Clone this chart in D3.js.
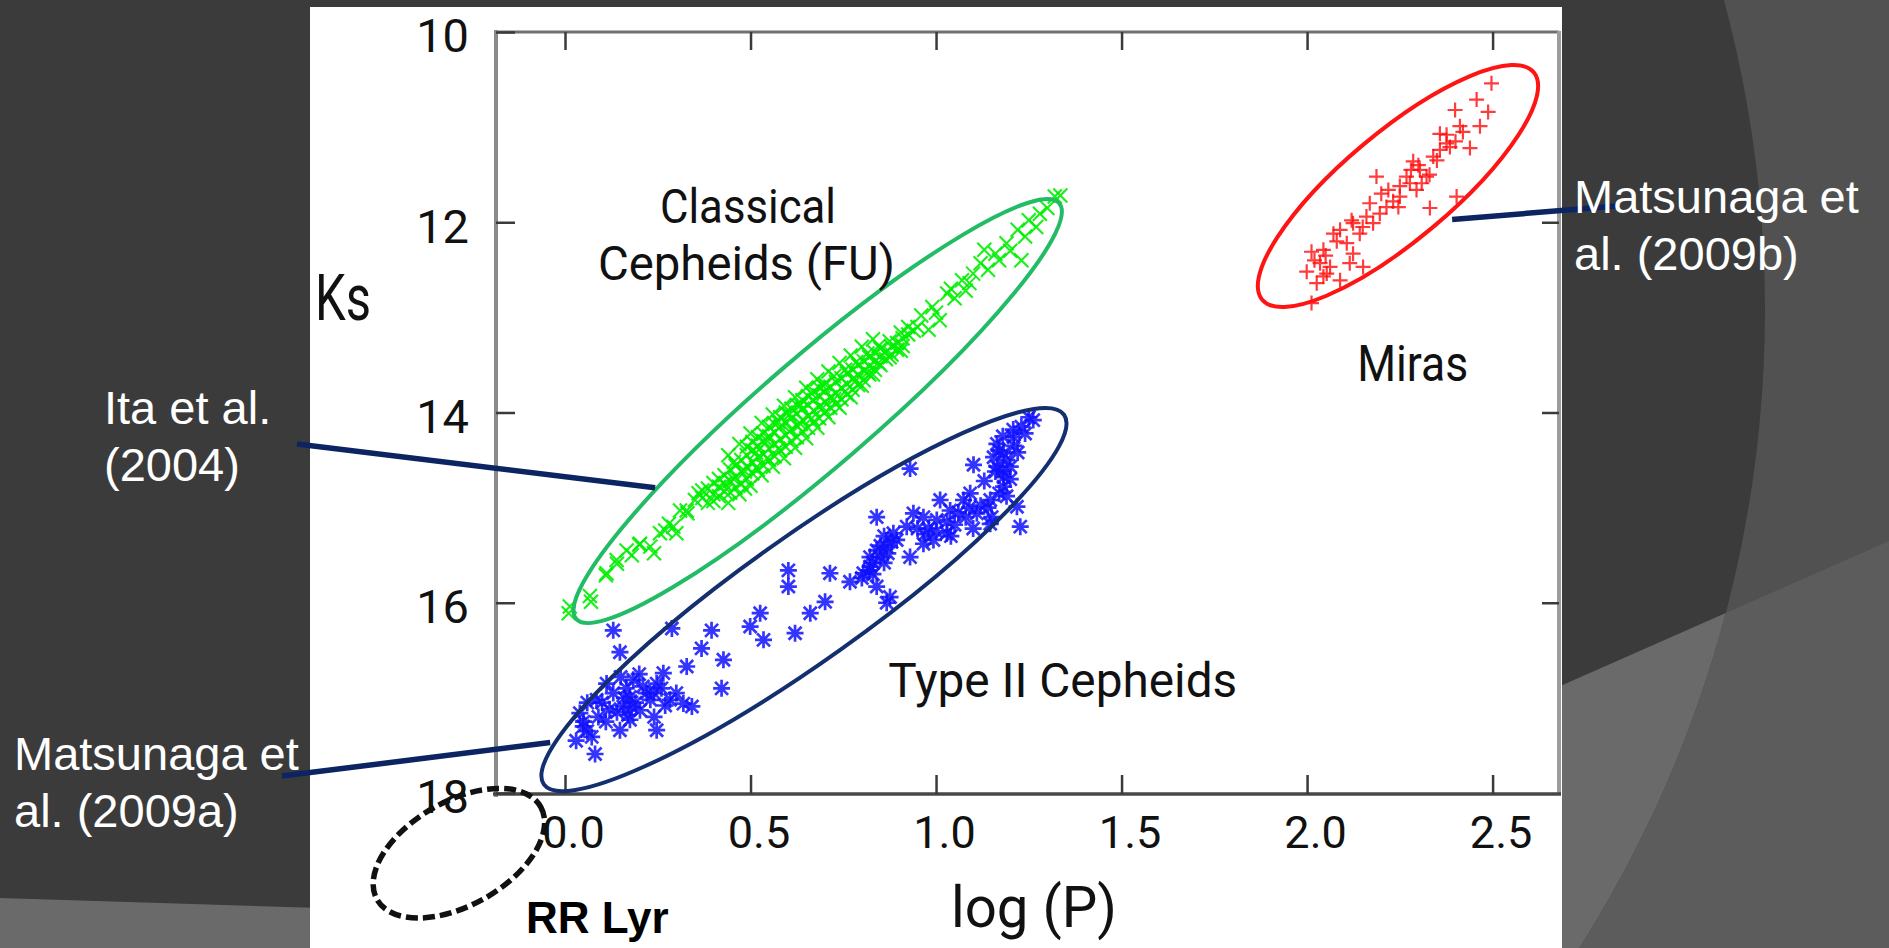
<!DOCTYPE html>
<html>
<head>
<meta charset="utf-8">
<script src="https://cdn.jsdelivr.net/npm/d3@7"></script>
<style>
body { margin: 0; background: #3b3b3b; overflow: hidden; }
</style>
</head>
<body>
<div id="chart"></div>
<script>
// ---- data (log P, Ks) ----
var classical = [
  [0.01,16.11],[0.07,15.99],[0.11,15.71],[0.14,15.59],[0.18,15.50],[0.20,15.39],[0.23,15.41],[0.24,15.48],
  [0.27,15.24],[0.28,15.17],[0.30,15.27],[0.31,15.03],[0.33,15.06],[0.35,14.92],[0.36,14.85],
  [0.013,16.04],[0.067,15.93],[0.112,15.69],[0.139,15.55],[0.166,15.45],[0.202,15.38],[0.256,15.27],[0.292,15.20],[0.328,15.03],
  [0.37,14.90],[0.37,14.82],[0.385,14.95],[0.385,14.80],[0.40,14.86],[0.40,14.74],[0.40,14.93],
  [0.415,14.78],[0.415,14.88],[0.415,14.70],[0.43,14.83],[0.43,14.66],[0.43,14.75],
  [0.445,14.72],[0.445,14.60],[0.445,14.84],[0.46,14.68],[0.46,14.56],[0.46,14.79],
  [0.475,14.62],[0.475,14.75],[0.475,14.50],[0.49,14.57],[0.49,14.45],[0.49,14.70],[0.49,14.36],
  [0.505,14.52],[0.505,14.40],[0.505,14.64],[0.505,14.31],[0.52,14.47],[0.52,14.35],[0.52,14.60],[0.52,14.26],
  [0.535,14.44],[0.535,14.30],[0.535,14.56],[0.535,14.22],[0.55,14.38],[0.55,14.25],[0.55,14.50],[0.55,14.15],
  [0.565,14.33],[0.565,14.21],[0.565,14.46],[0.565,14.12],[0.58,14.28],[0.58,14.15],[0.58,14.40],[0.58,14.05],
  [0.595,14.24],[0.595,14.10],[0.595,14.36],[0.595,14.00],[0.61,14.18],[0.61,14.06],[0.61,14.30],[0.61,13.96],
  [0.625,14.14],[0.625,14.01],[0.625,14.26],[0.625,13.92],[0.64,14.08],[0.64,13.96],[0.64,14.20],[0.64,13.87],
  [0.655,14.04],[0.655,13.92],[0.655,14.16],[0.655,13.83],[0.67,13.98],[0.67,13.87],[0.67,14.10],[0.67,13.78],
  [0.685,13.94],[0.685,13.82],[0.685,14.06],[0.685,13.74],[0.70,13.89],[0.70,13.78],[0.70,14.00],[0.70,13.70],
  [0.715,13.84],[0.715,13.73],[0.715,13.95],[0.73,13.80],[0.73,13.68],[0.73,13.91],
  [0.745,13.74],[0.745,13.64],[0.745,13.86],[0.76,13.70],[0.76,13.59],[0.76,13.81],
  [0.775,13.65],[0.775,13.55],[0.775,13.76],[0.79,13.60],[0.79,13.50],[0.79,13.71],
  [0.805,13.56],[0.805,13.46],[0.805,13.66],[0.82,13.51],[0.82,13.42],[0.82,13.60],
  [0.835,13.46],[0.835,13.37],[0.835,13.55],[0.85,13.41],[0.85,13.33],[0.85,13.50],
  [0.865,13.36],[0.865,13.44],[0.88,13.31],[0.88,13.39],[0.895,13.27],[0.895,13.34],
  [0.91,13.22],[0.91,13.30],[0.925,13.18],[0.925,13.10],[0.94,13.14],
  [0.44,14.95],[0.44,14.45],[0.47,14.86],[0.47,14.33],[0.50,14.77],[0.50,14.22],[0.53,14.66],[0.53,14.11],
  [0.56,14.57],[0.56,14.02],[0.59,14.48],[0.59,13.93],[0.62,14.37],[0.62,13.84],[0.65,14.27],[0.65,13.74],
  [0.68,14.16],[0.68,13.65],[0.71,14.05],[0.71,13.57],[0.74,13.95],[0.74,13.48],[0.77,13.84],[0.77,13.40],
  [0.80,13.72],[0.80,13.31],[0.83,13.60],[0.83,13.23],
  [0.455,14.70],[0.455,14.52],[0.485,14.62],[0.485,14.80],[0.515,14.42],[0.515,14.58],[0.545,14.30],[0.545,14.48],
  [0.575,14.10],[0.575,14.38],[0.605,14.20],[0.605,14.02],[0.635,13.92],[0.635,14.12],[0.665,13.80],[0.665,14.06],
  [0.695,13.72],[0.695,13.95],[0.725,13.62],[0.725,13.86],[0.755,13.55],[0.755,13.78],[0.785,13.47],[0.785,13.66],
  [0.815,13.38],[0.815,13.58],[0.845,13.30],[0.845,13.48],[0.875,13.25],[0.875,13.42],[0.905,13.16],[0.905,13.35],
  [0.95,13.10],[0.99,12.89],[1.03,12.75],[1.07,12.61],[1.09,12.64],[1.12,12.43],[1.13,12.29],[1.16,12.33],
  [1.19,12.22],[1.22,12.08],[1.23,12.40],[1.25,11.98],[1.28,11.91],[1.32,11.73],[1.10,12.54],[1.01,13.03],
  [0.98,13.13],[0.96,12.98],[1.00,12.95],[1.05,12.80],[1.04,12.70],[1.14,12.50],[1.08,12.72],[1.17,12.40],
  [1.20,12.30],[1.24,12.15],[1.27,12.05],[1.30,11.85],[1.335,11.72]
];

var type2 = [
  [0.13,16.29],[0.148,16.52],[0.288,16.27],[0.395,16.29],[0.368,16.48],[0.427,16.60],[0.422,16.90],[0.328,16.67],
  [0.265,16.74],[0.247,16.85],[0.184,16.81],[0.175,16.99],[0.202,17.13],[0.13,16.95],[0.112,16.85],[0.085,17.02],
  [0.049,17.30],[0.072,17.41],[0.081,17.59],[0.04,17.16],[0.148,17.34],[0.247,17.34],[0.175,17.23],[0.283,17.02],
  [0.319,17.06],[0.342,17.09],[0.22,16.95],[0.157,17.09],[0.499,16.25],[0.526,16.11],[0.535,16.39],[0.602,15.66],
  [0.602,15.83],[0.714,15.69],[0.701,15.99],[0.661,16.11],[0.62,16.32],[0.84,15.10],[0.93,14.59],[1.101,14.55],
  [0.768,15.78],[0.804,15.69],[0.822,15.62],[0.849,15.52],[0.867,15.41],[0.894,15.34],[0.921,15.20],[0.939,15.06],
  [0.966,15.10],[1.002,15.13],[1.038,15.03],[1.074,14.92],[0.993,15.34],[1.029,15.27],[0.876,15.94],[0.867,16.00],
  [0.84,15.83],[1.11,15.06],[1.146,14.92],[1.182,14.78],[1.164,14.57],[1.182,14.43],[1.209,14.26],[1.164,14.33],
  [1.218,14.99],[1.227,15.20],[1.146,15.17],[1.182,14.68],[1.262,14.08],[1.155,14.47],[0.966,15.38],[0.93,15.52],
  [0.822,15.52],[0.885,15.27],[1.011,14.92],[1.092,14.85],[1.20,14.57],[1.208,14.18],[1.181,14.61],[0.84,15.45],
  [0.86,15.58],[0.83,15.70],[0.10,17.05],[0.14,17.15],[0.19,17.05],[0.24,16.95],[0.06,17.05],[0.165,16.90],
  [0.20,16.75],[0.11,17.25],[1.05,15.18],[1.12,14.98],[1.08,15.10],[0.95,15.22],[1.13,14.72],[1.22,14.42],
  [0.16,17.00],[0.18,17.10],[0.21,16.88],[0.23,17.02],[0.26,16.90],[0.12,17.12],[0.09,17.20],[0.15,16.78],
  [0.27,17.08],[0.30,16.95],[0.06,17.35],[0.03,17.45],[0.05,17.25],[0.17,17.18],[0.24,17.20],
  [0.83,15.58],[0.85,15.40],[0.87,15.48],[0.82,15.66],[0.86,15.30],[0.80,15.74],[0.88,15.36],
  [0.98,15.22],[1.00,15.25],[1.03,15.15],[1.06,15.05],[1.09,15.00],[1.14,15.00],[1.17,14.85],[1.19,14.88],
  [1.04,15.30],[0.97,15.28],[1.10,15.22],[1.15,15.10],
  [1.17,14.40],[1.19,14.50],[1.21,14.35],[1.18,14.25],[1.23,14.15],[1.16,14.62],[1.20,14.70],[1.24,14.22],[1.25,14.05]
];

var miras = [
  [2.497,10.54],[2.488,10.84],[2.466,10.99],[2.457,10.71],[2.399,10.82],[2.376,11.08],[2.385,11.21],[2.439,11.22],
  [2.403,11.73],[2.331,11.85],[2.304,11.45],[2.309,11.59],[2.286,11.36],[2.268,11.52],[2.187,11.52],[2.219,11.66],
  [2.232,11.78],[2.196,11.91],[2.160,11.94],[2.178,12.01],[2.124,12.01],[2.089,12.08],[2.071,12.12],[2.142,12.12],
  [2.107,12.22],[2.124,12.33],[2.151,12.47],[2.044,12.29],[2.012,12.31],[2.035,12.43],[1.999,12.52],[2.053,12.54],
  [2.026,12.64],[2.089,12.61],[2.012,12.85],[2.358,11.24],[2.340,11.31],[2.412,10.99],[2.358,11.07],[2.295,11.66],
  [2.250,11.73],[2.214,11.84],[2.115,12.43],[2.044,12.57],[2.062,12.47],[2.322,11.52],[2.277,11.59],[2.376,11.17],
  [2.246,11.84],[2.169,11.80],
  [2.30,11.40],[2.33,11.50],[2.28,11.45],[2.35,11.35],[2.20,11.70],[2.25,11.62],[2.12,11.98],[2.15,12.05],
  [2.08,12.20],[2.05,12.35],[2.02,12.40],[2.40,11.15],[2.42,11.05]
];

var xTicks = [0, 0.5, 1.0, 1.5, 2.0, 2.5];
var yTicks = [10, 12, 14, 16, 18];

// group outlines: centre and major-axis tip in data units, half minor axis in px
var regionNames = ["classical", "type2", "miras", "rrlyr"];
var regionCentre = [[0.681, 13.985], [0.644, 15.967], [2.245, 11.619], [-0.286, 18.633]];
var regionTip = [[1.332, 11.80], [1.345, 14.024], [2.611, 10.423], [-0.0655, 18.145]];

// group labels inside the plot (each entry may hold several lines)
var groupLabels = [["Classical", "Cepheids (FU)"], ["Type II Cepheids"], ["Miras"]];
var groupLabelPos = [[[0.256, 12.01], [0.089, 12.61]], [[0.871, 16.99]], [[2.135, 13.67]]];

// references pointing at the groups
var refLines = [["Ita et al.", "(2004)"], ["Matsunaga et", "al. (2009a)"], ["Matsunaga et", "al. (2009b)"]];
var refTargets = [[0.243, 14.79], [-0.04, 17.47], [2.391, 11.97]];

// ---- page ----
var W = 1889, H = 948;
var svg = d3.select("#chart").append("svg").attr("width", W).attr("height", H);

// slide background
svg.append("rect").attr("width", W).attr("height", H).attr("fill", "#3b3b3b");
var defs = svg.append("defs");
var cc = {x: 576, y: 310, r: 1189};
defs.append("clipPath").attr("id", "inCircle")
  .append("circle").attr("cx", cc.x).attr("cy", cc.y).attr("r", cc.r);
defs.append("clipPath").attr("id", "outCircle")
  .append("path").attr("clip-rule", "evenodd")
  .attr("d", "M0,0H" + W + "V" + H + "H0Z M" + (cc.x + cc.r) + "," + cc.y +
    " A" + cc.r + "," + cc.r + " 0 1,0 " + (cc.x - cc.r) + "," + cc.y +
    " A" + cc.r + "," + cc.r + " 0 1,0 " + (cc.x + cc.r) + "," + cc.y + "Z");

svg.append("rect").attr("width", W).attr("height", H)
  .attr("fill", "#515151").attr("clip-path", "url(#outCircle)");
var wedge = "M1200,845L1889,541L1889,948L1200,948Z";
svg.append("path").attr("d", wedge).attr("fill", "#6a6a6a").attr("clip-path", "url(#inCircle)");
svg.append("path").attr("d", wedge).attr("fill", "#5c5c5c").attr("clip-path", "url(#outCircle)");
svg.append("path").attr("d", "M0,898L320,908L320,948L0,948Z").attr("fill", "#6a6a6a");

// white picture
svg.append("rect").attr("x", 310).attr("y", 7).attr("width", 1252).attr("height", H - 7).attr("fill", "#fff");

// scales
var x = d3.scaleLinear().domain([-0.186, 2.679]).range([496, 1559]);
var y = d3.scaleLinear().domain([10, 18]).range([32, 793]);

var chartFont = "Roboto, 'Open Sans', sans-serif";

// frame
svg.append("line").attr("x1", 496).attr("x2", 1559).attr("y1", 32).attr("y2", 32)
  .attr("stroke", "#707070").attr("stroke-width", 3);
svg.append("line").attr("x1", 1559).attr("x2", 1559).attr("y1", 31).attr("y2", 795)
  .attr("stroke", "#9c9c9c").attr("stroke-width", 4);
svg.append("line").attr("x1", 496).attr("x2", 496).attr("y1", 30).attr("y2", 797)
  .attr("stroke", "#8a8a8a").attr("stroke-width", 4);
svg.append("line").attr("x1", 493).attr("x2", 1561).attr("y1", 794).attr("y2", 794)
  .attr("stroke", "#474747").attr("stroke-width", 3.5);

// axes
var gBottom = svg.append("g").attr("transform", "translate(0,794)")
  .call(d3.axisBottom(x).tickValues(xTicks).tickSize(-19).tickSizeOuter(0)
    .tickPadding(22).tickFormat(d3.format(".1f")));
var gTop = svg.append("g").attr("transform", "translate(0,32)")
  .call(d3.axisTop(x).tickValues(xTicks).tickSize(-18).tickSizeOuter(0).tickFormat(""));
var gLeft = svg.append("g").attr("transform", "translate(496,0)")
  .call(d3.axisLeft(y).tickValues(yTicks).tickSize(-19).tickSizeOuter(0)
    .tickPadding(27).tickFormat(d3.format("d")));
var gRight = svg.append("g").attr("transform", "translate(1559,0)")
  .call(d3.axisRight(y).tickValues([12, 14, 16]).tickSize(-17).tickSizeOuter(0).tickFormat(""));

[gBottom, gTop, gLeft, gRight].forEach(function(g) {
  g.select(".domain").remove();
  g.selectAll(".tick line").attr("stroke", "#3a3a3a").attr("stroke-width", 2.5);
  g.selectAll("text").attr("font-family", chartFont).attr("fill", "#111");
});
gBottom.selectAll("text").attr("font-size", 45).attr("dx", 8);
gLeft.selectAll("text").attr("font-size", 47).attr("dy", "0.42em");

// axis titles
svg.append("text").attr("x", 315).attr("y", 320).text("Ks")
  .attr("font-family", chartFont).attr("font-size", 64).attr("fill", "#111")
  .attr("textLength", 56).attr("lengthAdjust", "spacingAndGlyphs");
svg.append("text").attr("x", 951).attr("y", 927).text("log (P)")
  .attr("font-family", chartFont).attr("font-size", 58).attr("fill", "#111")
  .attr("textLength", 166).attr("lengthAdjust", "spacingAndGlyphs");

// markers
var markerPath = {
  times: "M-7,-7L7,7M-7,7L7,-7",
  star: "M-8.5,0H8.5M0,-8.5V8.5M-6.5,-6.5L6.5,6.5M-6.5,6.5L6.5,-6.5",
  plus: "M-7.5,0H7.5M0,-7.5V7.5"
};

function drawPoints(data, marker, color, width, opacity) {
  svg.append("g")
    .selectAll("path")
    .data(data)
    .enter()
    .append("path")
    .attr("d", markerPath[marker])
    .attr("transform", function(d) { return "translate(" + x(d[0]) + "," + y(d[1]) + ")"; })
    .attr("fill", "none")
    .attr("stroke", color)
    .attr("stroke-width", width)
    .attr("stroke-opacity", opacity);
}

drawPoints(classical, "times", "#00ee00", 2.1, 0.9);
drawPoints(type2, "star", "#1010ff", 2.7, 0.85);
drawPoints(miras, "plus", "#ff0a0a", 2.2, 0.8);

// group outlines
var regionStyle = {
  classical: {ry: 55, stroke: "#22bb66", width: 4, dash: null},
  type2: {ry: 62, stroke: "#132f70", width: 4, dash: null},
  miras: {ry: 54, stroke: "#ff1414", width: 4, dash: null},
  rrlyr: {ry: 52, stroke: "#111", width: 5.5, dash: "12 5"}
};

regionNames.forEach(function(name, i) {
  var cx = x(regionCentre[i][0]), cy = y(regionCentre[i][1]);
  var tx = x(regionTip[i][0]), ty = y(regionTip[i][1]);
  var rx = Math.hypot(tx - cx, ty - cy);
  var ang = Math.atan2(ty - cy, tx - cx) * 180 / Math.PI;
  var s = regionStyle[name];
  svg.append("ellipse")
    .attr("cx", 0).attr("cy", 0)
    .attr("rx", rx).attr("ry", s.ry)
    .attr("transform", "translate(" + cx + "," + cy + ") rotate(" + ang + ")")
    .attr("fill", "none")
    .attr("stroke", s.stroke)
    .attr("stroke-width", s.width)
    .attr("stroke-dasharray", s.dash);
});

// group labels
var labelWidth = [[176, 297], [349], [111]];
var labelSize = [48, 48, 50];
groupLabels.forEach(function(lines, i) {
  var t = svg.append("text")
    .attr("font-family", chartFont)
    .attr("font-size", labelSize[i])
    .attr("fill", "#111");
  lines.forEach(function(l, j) {
    t.append("tspan")
      .attr("x", x(groupLabelPos[i][j][0]))
      .attr("y", y(groupLabelPos[i][j][1]))
      .attr("textLength", labelWidth[i][j])
      .attr("lengthAdjust", "spacingAndGlyphs")
      .text(l);
  });
});

svg.append("text").attr("x", 526).attr("y", 933).text("RR Lyr")
  .attr("font-family", "'Liberation Sans', Arial, sans-serif")
  .attr("font-weight", "bold").attr("font-size", 44).attr("fill", "#000");

// reference call-outs
var refStart = [[297, 444], [282, 776], [1617, 206]];
var refText = [[104, 424], [14, 770], [1574, 213]];

refLines.forEach(function(lines, i) {
  svg.append("line")
    .attr("x1", refStart[i][0]).attr("y1", refStart[i][1])
    .attr("x2", x(refTargets[i][0])).attr("y2", y(refTargets[i][1]))
    .attr("stroke", "#0c2461").attr("stroke-width", 5.5);
});

refLines.forEach(function(lines, i) {
  var t = svg.append("text")
    .attr("font-family", "'Liberation Sans', Arial, sans-serif")
    .attr("font-size", 47)
    .attr("fill", "#fff");
  lines.forEach(function(l, j) {
    t.append("tspan").attr("x", refText[i][0]).attr("y", refText[i][1] + j * 57).text(l);
  });
});
</script>
</body>
</html>
